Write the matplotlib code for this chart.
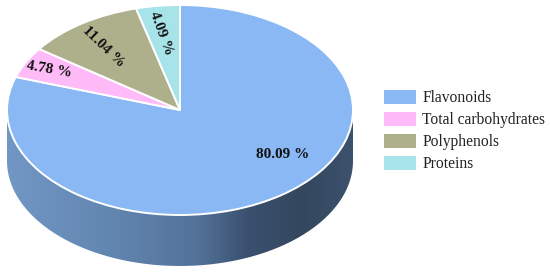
import numpy as np
import matplotlib.pyplot as plt
from matplotlib.patches import PathPatch
from matplotlib.path import Path
from matplotlib.colors import LinearSegmentedColormap

plt.rcParams['font.family'] = ['Liberation Serif', 'DejaVu Serif']

categorias = ['Flavonoids', 'Total carbohydrates', 'Polyphenols', 'Proteins']
valores = [80.09, 4.78, 11.04, 4.09]
cores = ['#8ab8f5', '#ffbbf8', '#aeb08b', '#a6e4ea']

# posicao e rotacao dos rotulos, em pixels da imagem
rotulos_x = [283, 49, 103, 161]
rotulos_y = [154, 70, 47, 33]
rotulos_rot = [0, -10, -44, -70]

# geometria da pizza em pixels
cx, cy = 180, 110
rx, ry = 173, 105
prof = 51
W, H = 550, 272


def px(x, y):
    return (x - cx) / rx, (cy - y) / ry


fig = plt.figure(figsize=(5.5, 2.72), dpi=100)
ax = fig.add_axes([0, 0, 1, 1])

# parede lateral com gradiente
d = prof / ry
t = np.linspace(np.pi, 2 * np.pi, 200)
xs = np.concatenate([np.cos(t), np.cos(t[::-1])])
ys = np.concatenate([np.sin(t) - d, np.sin(t[::-1])])
cmap = LinearSegmentedColormap.from_list(
    'lateral', [(0, '#7397c4'), (0.3, '#6186b0'), (0.55, '#53729a'),
                (0.7, '#3a506e'), (0.85, '#34475f'), (1, '#3c516c')])
im = ax.imshow(np.linspace(0, 1, 256).reshape(1, -1), cmap=cmap, aspect='auto',
               extent=(-1, 1, -1 - d, 0), zorder=1)
lateral = PathPatch(Path(np.column_stack([xs, ys])), transform=ax.transData,
                    facecolor='none', edgecolor='none')
ax.add_patch(lateral)
im.set_clip_path(lateral)

wedges, _ = ax.pie(valores, colors=cores, startangle=90, counterclock=False,
                   wedgeprops={'edgecolor': 'white', 'linewidth': 1.4, 'zorder': 2},
                   frame=False)

ax.set_aspect('auto')
ax.set_xlim(-cx / rx, (W - cx) / rx)
ax.set_ylim((cy - H) / ry, cy / ry)
ax.axis('off')

for v, x, y, r in zip(valores, rotulos_x, rotulos_y, rotulos_rot):
    xd, yd = px(x, y)
    ax.text(xd, yd, f'{v:.2f} %', fontsize=11, fontweight='bold', color='#111111',
            rotation=r, rotation_mode='anchor', ha='center', va='center', zorder=3)

handles = [plt.Rectangle((0, 0), 1, 1, facecolor=c, edgecolor='none') for c in cores]
ax.legend(handles, categorias, loc='upper left', bbox_to_anchor=(384 / W, 1 - 90 / H),
          frameon=False, fontsize=11.2, handlelength=2.05, handleheight=1.0,
          labelspacing=0.36, handletextpad=0.42, borderpad=0, borderaxespad=0,
          labelcolor='#222222')

plt.savefig('out.png', dpi=100)
